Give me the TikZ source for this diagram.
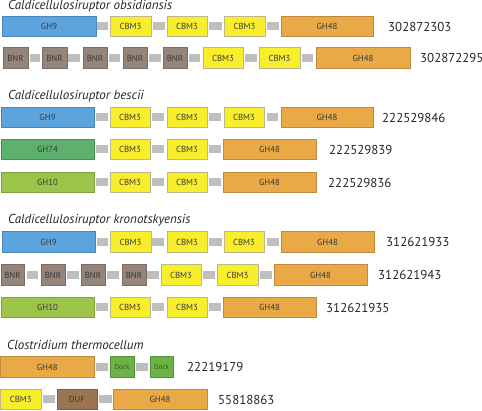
\documentclass[tikz,border=0pt]{standalone}
\usepackage{fontspec}
\setmainfont{PT Sans}
\definecolor{cBlue}{HTML}{5CA4DD}
\definecolor{cBlueD}{HTML}{4A86BC}
\definecolor{cYel}{HTML}{F9EE2C}
\definecolor{cYelD}{HTML}{BDB78E}
\definecolor{cOr}{HTML}{E8A946}
\definecolor{cOrD}{HTML}{C08A3C}
\definecolor{cBnr}{HTML}{958479}
\definecolor{cBnrD}{HTML}{7C6D63}
\definecolor{cG74}{HTML}{5EB16D}
\definecolor{cG74D}{HTML}{4A8F57}
\definecolor{cG10}{HTML}{9CC34A}
\definecolor{cG10D}{HTML}{7FA23A}
\definecolor{cDock}{HTML}{6CB247}
\definecolor{cDockD}{HTML}{56913A}
\definecolor{cDockT}{HTML}{2E5A1E}
\definecolor{cDuf}{HTML}{9B7551}
\definecolor{cDufD}{HTML}{7E5E40}
\definecolor{cLnk}{HTML}{BEBEBE}
\definecolor{cTxt}{HTML}{3A3A3A}
\newcommand\Dbox[6]{\node[dom,#5,minimum width={#3pt-#2pt}] (#1) at ({(#2+#3)/2},#4) {#6};}
\newcommand\Lnk[4]{\node[lnk,minimum width={#3pt-#2pt}] (#1) at ({(#2+#3)/2},#4) {};}
\begin{document}
\begin{tikzpicture}[x=1pt,y=-1pt,
  dom/.style={draw,line width=0.7pt,minimum height=20.5pt,inner sep=0pt,font=\fontsize{8.8}{9}\selectfont,text=cTxt},
  lnk/.style={fill=cLnk,minimum height=8pt,inner sep=0pt},
  gh9/.style={fill=cBlue,draw=cBlueD},
  cbm/.style={fill=cYel,draw=cYelD},
  gh48/.style={fill=cOr,draw=cOrD},
  bnr/.style={fill=cBnr,draw=cBnrD},
  gh74/.style={fill=cG74,draw=cG74D},
  gh10/.style={fill=cG10,draw=cG10D},
  dock/.style={fill=cDock,draw=cDockD,text=cDockT,font=\fontsize{7}{8}\selectfont},
  duf/.style={fill=cDuf,draw=cDufD},
  num/.style={anchor=west,inner sep=0pt,font=\fontsize{12.9}{14}\selectfont,text=black!85},
  ttl/.style={anchor=base west,inner sep=0pt,font=\fontsize{13}{14}\selectfont\itshape,text=black!85}]
\useasboundingbox (0,0) rectangle (482,411);
% Title 1
\node[ttl] (t1) at (8,9.5) {Caldicellulosiruptor obsidiansis};
% Row 1
\Dbox{a1}{2}{96}{26.5}{gh9}{GH9}
\Lnk{a1l}{97}{108}{26.5}
\Dbox{a2}{110}{151}{26.5}{cbm}{CBM3}
\Lnk{a2l}{153}{165}{26.5}
\Dbox{a3}{167}{207}{26.5}{cbm}{CBM3}
\Lnk{a3l}{209}{222}{26.5}
\Dbox{a4}{224}{265}{26.5}{cbm}{CBM3}
\Lnk{a4l}{267}{279}{26.5}
\Dbox{a5}{281}{373}{26.5}{gh48}{GH48}
\node[num] (an) at (388,26.5) {302872303};
% Row 2
\Dbox{b1}{3}{28}{58}{bnr}{BNR}
\Lnk{b1l}{30}{40}{58}
\Dbox{b2}{42}{67}{58}{bnr}{BNR}
\Lnk{b2l}{68}{80}{58}
\Dbox{b3}{83}{107}{58}{bnr}{BNR}
\Lnk{b3l}{109}{120}{58}
\Dbox{b4}{123}{147}{58}{bnr}{BNR}
\Lnk{b4l}{149}{161}{58}
\Dbox{b5}{163}{187}{58}{bnr}{BNR}
\Lnk{b5l}{189}{200}{58}
\Dbox{b6}{203}{243}{58}{cbm}{CBM3}
\Lnk{b6l}{245}{257}{58}
\Dbox{b7}{259}{300}{58}{cbm}{CBM3}
\Lnk{b7l}{302}{313}{58}
\Dbox{b8}{316}{410}{58}{gh48}{GH48}
\node[num] (bn) at (420,58) {302872295};
% Title 2
\node[ttl] (t2) at (8,100) {Caldicellulosiruptor bescii};
% Row 3
\Dbox{c1}{1}{94}{117.5}{gh9}{GH9}
\Lnk{c1l}{96}{108}{117.5}
\Dbox{c2}{110}{150}{117.5}{cbm}{CBM3}
\Lnk{c2l}{152}{164}{117.5}
\Dbox{c3}{167}{207}{117.5}{cbm}{CBM3}
\Lnk{c3l}{209}{221}{117.5}
\Dbox{c4}{224}{264}{117.5}{cbm}{CBM3}
\Lnk{c4l}{267}{278}{117.5}
\Dbox{c5}{281}{373}{117.5}{gh48}{GH48}
\node[num] (cn) at (382,117.5) {222529846};
% Row 4
\Dbox{d1}{1}{94}{149.5}{gh74}{GH74}
\Lnk{d1l}{96}{108}{149.5}
\Dbox{d2}{110}{150}{149.5}{cbm}{CBM3}
\Lnk{d2l}{152}{164}{149.5}
\Dbox{d3}{167}{207}{149.5}{cbm}{CBM3}
\Lnk{d3l}{209}{221}{149.5}
\Dbox{d4}{223}{316}{149.5}{gh48}{GH48}
\node[num] (dn) at (329,149.5) {222529839};
% Row 5
\Dbox{e1}{1}{94}{182.5}{gh10}{GH10}
\Lnk{e1l}{96}{108}{182.5}
\Dbox{e2}{110}{150}{182.5}{cbm}{CBM3}
\Lnk{e2l}{152}{164}{182.5}
\Dbox{e3}{167}{207}{182.5}{cbm}{CBM3}
\Lnk{e3l}{209}{221}{182.5}
\Dbox{e4}{223}{316}{182.5}{gh48}{GH48}
\node[num] (en) at (328,182.5) {222529836};
% Title 3
\node[ttl] (t3) at (8,223.5) {Caldicellulosiruptor kronotskyensis};
% Row 6
\Dbox{f1}{2}{95}{242}{gh9}{GH9}
\Lnk{f1l}{97}{108}{242}
\Dbox{f2}{110}{151}{242}{cbm}{CBM3}
\Lnk{f2l}{152}{164}{242}
\Dbox{f3}{167}{207}{242}{cbm}{CBM3}
\Lnk{f3l}{209}{222}{242}
\Dbox{f4}{224}{264}{242}{cbm}{CBM3}
\Lnk{f4l}{267}{279}{242}
\Dbox{f5}{281}{374}{242}{gh48}{GH48}
\node[num] (fn) at (386,242) {312621933};
% Row 7
\Dbox{g1}{1}{24}{275}{bnr}{BNR}
\Lnk{g1l}{27}{38}{275}
\Dbox{g2}{41}{65}{275}{bnr}{BNR}
\Lnk{g2l}{67}{79}{275}
\Dbox{g3}{81}{105}{275}{bnr}{BNR}
\Lnk{g3l}{107}{119}{275}
\Dbox{g4}{122}{146}{275}{bnr}{BNR}
\Lnk{g4l}{147}{159}{275}
\Dbox{g5}{161}{201}{275}{cbm}{CBM3}
\Lnk{g5l}{203}{215}{275}
\Dbox{g6}{217}{258}{275}{cbm}{CBM3}
\Lnk{g6l}{260}{272}{275}
\Dbox{g7}{274}{367}{275}{gh48}{GH48}
\node[num] (gn) at (378,275) {312621943};
% Row 8
\Dbox{h1}{1}{94}{307.5}{gh10}{GH10}
\Lnk{h1l}{96}{108}{307.5}
\Dbox{h2}{110}{150}{307.5}{cbm}{CBM3}
\Lnk{h2l}{152}{164}{307.5}
\Dbox{h3}{167}{207}{307.5}{cbm}{CBM3}
\Lnk{h3l}{209}{221}{307.5}
\Dbox{h4}{223}{316}{307.5}{gh48}{GH48}
\node[num] (hn) at (326,307.5) {312621935};
% Title 4
\node[ttl] (t4) at (7,349.5) {Clostridium thermocellum};
% Row 9
\Dbox{i1}{0.5}{94}{367}{gh48}{GH48}
\Lnk{i1l}{96}{108}{367}
\Dbox{i2}{110}{134}{367}{dock}{Dock}
\Lnk{i2l}{136}{148}{367}
\Dbox{i3}{150}{173}{367}{dock}{Dock}
\node[num] (in) at (187,367) {22219179};
% Row 10
\Dbox{j1}{0.5}{41}{399.5}{cbm}{CBM3}
\Lnk{j1l}{43}{55}{399.5}
\Dbox{j2}{57}{97}{399.5}{duf}{DUF}
\Lnk{j2l}{99}{112}{399.5}
\Dbox{j3}{113}{207}{399.5}{gh48}{GH48}
\node[num] (jn) at (218,399.5) {55818863};
\end{tikzpicture}
\end{document}
